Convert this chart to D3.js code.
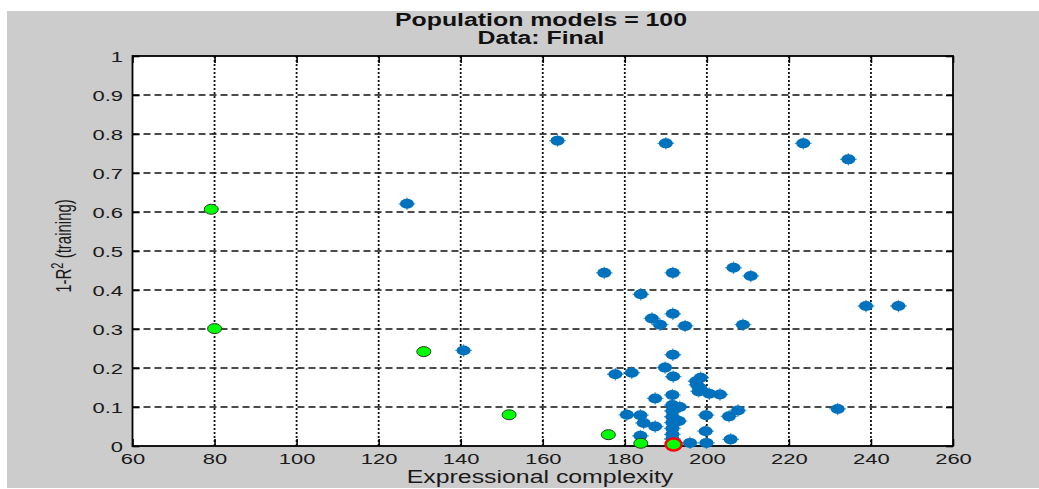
<!DOCTYPE html>
<html>
<head>
<meta charset="utf-8">
<script src="https://cdn.jsdelivr.net/npm/d3@7"></script>
<style>
  html, body { margin: 0; padding: 0; background: #ffffff; }
  svg { display: block; }
  text { font-family: "Liberation Sans", Arial, sans-serif; }
</style>
</head>
<body>
<svg id="chart" width="1039" height="489"></svg>
<script>
// Population of models: expressional complexity vs 1-R^2 on training data
const titleLines = ["Population models = 100", "Data: Final"];
const xLabel = "Expressional complexity";
const xTicks = [60, 80, 100, 120, 140, 160, 180, 200, 220, 240, 260];
const yTicks = [0, 0.1, 0.2, 0.3, 0.4, 0.5, 0.6, 0.7, 0.8, 0.9, 1];

// All models in the population
const popComplexity = [
  163.6, 190.0, 223.5, 234.5, 126.9,
  175.0, 191.7, 206.5, 210.7, 183.9,
  186.6, 188.6, 191.7, 194.7, 208.8,
  238.8, 246.7, 140.7, 191.7, 189.8,
  177.7, 181.7, 191.8, 198.5, 197.6,
  198.0, 200.6, 203.2, 191.6, 187.4,
  180.5, 183.8, 184.6, 187.4, 183.8,
  191.6, 191.6, 191.6, 191.6, 191.6,
  191.6, 191.6, 193.4, 193.2, 199.8,
  199.7, 199.9, 195.9, 205.4, 207.6,
  205.8, 231.9, 197.4, 198.4
];
const popError = [
  0.783, 0.776, 0.776, 0.735, 0.621,
  0.444, 0.444, 0.457, 0.436, 0.389,
  0.327, 0.311, 0.339, 0.308, 0.311,
  0.359, 0.359, 0.245, 0.234, 0.201,
  0.184, 0.188, 0.178, 0.175, 0.157,
  0.140, 0.134, 0.132, 0.131, 0.122,
  0.080, 0.079, 0.059, 0.050, 0.026,
  0.105, 0.090, 0.075, 0.060, 0.045,
  0.030, 0.018, 0.100, 0.064, 0.079,
  0.038, 0.008, 0.008, 0.076, 0.091,
  0.017, 0.095, 0.166, 0.148
];

// Pareto front models
const paretoComplexity = [79.2, 80.0, 131.0, 151.8, 176.0, 183.9, 191.9];
const paretoError = [0.607, 0.301, 0.242, 0.080, 0.029, 0.007, 0.004];
const selectedIndex = 6;

const SX = 1.42;           // horizontal glyph stretch of the figure
const W = 1039, H = 489;
const plot = { left: 132.5, right: 953, top: 56, bottom: 446 };

const svg = d3.select("#chart");

// figure background
svg.append("rect").attr("x", 7).attr("y", 11).attr("width", W - 7).attr("height", H - 12)
  .attr("fill", "#cccccc");

const x = d3.scaleLinear().domain([60, 260]).range([plot.left, plot.right]);
const y = d3.scaleLinear().domain([0, 1]).range([plot.bottom, plot.top]);

// axes area
svg.append("rect")
  .attr("x", plot.left).attr("y", plot.top)
  .attr("width", plot.right - plot.left).attr("height", plot.bottom - plot.top)
  .attr("fill", "#ffffff");

// grid
const grid = svg.append("g");
grid.selectAll("line.h").data(yTicks.slice(1, -1)).join("line")
  .attr("x1", plot.left).attr("x2", plot.right)
  .attr("y1", d => y(d)).attr("y2", d => y(d))
  .attr("stroke", "#111").attr("stroke-width", 1.4)
  .attr("stroke-dasharray", "7,4");
grid.selectAll("line.v").data(xTicks.slice(1, -1)).join("line")
  .attr("y1", plot.top).attr("y2", plot.bottom)
  .attr("x1", d => x(d)).attr("x2", d => x(d))
  .attr("stroke", "#111").attr("stroke-width", 1.8)
  .attr("stroke-dasharray", "2,2");

// axes
const tickLen = 7;
const fmtY = d => d3.format("")(+d.toFixed(1));

const gx = svg.append("g").attr("transform", `translate(0,${plot.bottom})`)
  .call(d3.axisBottom(x).tickValues(xTicks).tickSize(-tickLen).tickPadding(0).tickFormat(d3.format("d")));
const gxTop = svg.append("g").attr("transform", `translate(0,${plot.top})`)
  .call(d3.axisTop(x).tickValues(xTicks).tickSize(-tickLen).tickFormat(""));
const gy = svg.append("g").attr("transform", `translate(${plot.left},0)`)
  .call(d3.axisLeft(y).tickValues(yTicks).tickSize(-tickLen).tickFormat(fmtY));
const gyRight = svg.append("g").attr("transform", `translate(${plot.right},0)`)
  .call(d3.axisRight(y).tickValues(yTicks).tickSize(-tickLen).tickFormat(""));

[gx, gxTop, gy, gyRight].forEach(g => {
  g.select(".domain").remove();
  g.selectAll(".tick line").attr("stroke", "#000").attr("stroke-width", 1.6);
});

gx.selectAll(".tick text")
  .attr("y", 18).attr("dy", 0)
  .attr("transform", `scale(${SX},1)`)
  .attr("font-size", 15.5).attr("fill", "#1a1a1a");
gy.selectAll(".tick text")
  .attr("x", -9.5 / SX).attr("dy", "0.36em")
  .attr("transform", `scale(${SX},1)`)
  .attr("font-size", 15.5).attr("fill", "#1a1a1a");

// axes box
svg.append("rect")
  .attr("x", plot.left).attr("y", plot.top)
  .attr("width", plot.right - plot.left).attr("height", plot.bottom - plot.top)
  .attr("fill", "none").attr("stroke", "#000").attr("stroke-width", 1.8);

// population models (thick asterisk markers)
const popData = popComplexity.map((c, i) => ({ c, e: popError[i] }));
const pop = svg.append("g").selectAll("g").data(popData).join("g")
  .attr("transform", d => `translate(${x(d.c)},${y(d.e)})`);
pop.append("ellipse").attr("rx", 7).attr("ry", 5).attr("fill", "#0072bd");
pop.append("path")
  .attr("d", "M-8.3,0H8.3M0,-6.2V6.2")
  .attr("stroke", "#0072bd").attr("stroke-width", 1.3).attr("opacity", 0.7);

// pareto front models
const parData = paretoComplexity.map((c, i) => ({ c, e: paretoError[i], sel: i === selectedIndex }));
svg.append("g").selectAll("ellipse").data(parData).join("ellipse")
  .attr("cx", d => x(d.c)).attr("cy", d => y(d.e))
  .attr("rx", d => d.sel ? 8 : 7).attr("ry", d => d.sel ? 6 : 5)
  .attr("fill", "#00ff00")
  .attr("stroke", d => d.sel ? "#ff0000" : "#2a3a2a")
  .attr("stroke-width", d => d.sel ? 2.6 : 1);

// title
titleLines.forEach((t, i) => {
  svg.append("text")
    .attr("transform", `translate(541,${26 + i * 18}) scale(${SX},1)`)
    .attr("text-anchor", "middle").attr("font-weight", "bold")
    .attr("font-size", 17.5).attr("fill", "#111")
    .text(t);
});

// x label
svg.append("text")
  .attr("transform", `translate(540,483) scale(${SX},1)`)
  .attr("text-anchor", "middle").attr("font-size", 17.5).attr("fill", "#1a1a1a")
  .text(xLabel);

// y label
const yl = svg.append("text")
  .attr("transform", `translate(71,246) scale(${SX},1) rotate(-90)`)
  .attr("text-anchor", "middle").attr("font-size", 15).attr("fill", "#1a1a1a");
yl.append("tspan").text("1-R");
yl.append("tspan").attr("baseline-shift", "super").attr("font-size", 11).text("2");
yl.append("tspan").text(" (training)");
</script>
</body>
</html>
